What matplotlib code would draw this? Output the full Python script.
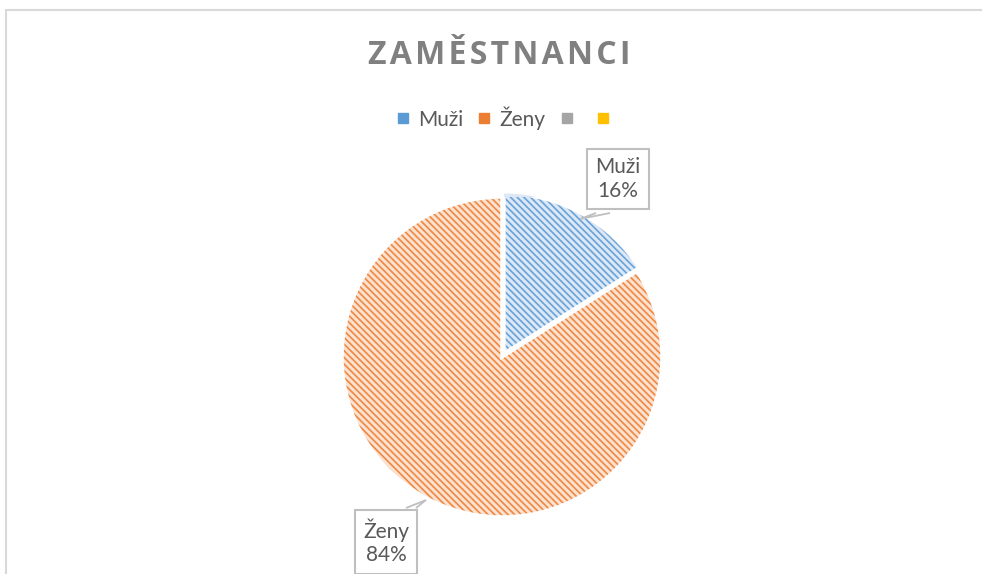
"""Koláčový graf ZAMĚSTNANCI (Muži / Ženy) se šrafovanými výsečemi."""
import matplotlib
matplotlib.use("Agg")
import matplotlib.pyplot as plt
from matplotlib.lines import Line2D
from matplotlib.patches import Rectangle, Wedge, Polygon

# data
kategorie = ["Muži", "Ženy"]
podily = [16, 84]
legenda_popisky = ["Muži", "Ženy", "", ""]

MODRA = "#5B9BD5"
ORANZOVA = "#ED7D31"
SEDA = "#A5A5A5"
ZLUTA = "#FFC000"
VYPLN = ["#DCE8F5", "#FBE2D0"]
TEXT = "#595959"

plt.rcParams["font.family"] = ["Lato", "DejaVu Sans"]
plt.rcParams["hatch.linewidth"] = 1.2

W, H = 982, 574
fig = plt.figure(figsize=(W / 100, H / 100), dpi=100)

# rámeček oblasti grafu
fig.patches.append(Rectangle((6 / W, -0.05), 1.1, (H - 10) / H + 0.05,
                             transform=fig.transFigure, fill=False,
                             edgecolor="#D9D9D9", lw=1.5))

# koláč
cx, cy, r = 502, 357, 160
ax = fig.add_axes([(cx - r) / W, (H - cy - r) / H, 2 * r / W, 2 * r / H])
ax.set_aspect("equal")
barvy = [MODRA, ORANZOVA]
wedges, _ = ax.pie(podily, startangle=90, counterclock=False, colors=VYPLN,
                   explode=[0.025, 0], wedgeprops=dict(lw=0))
for w, c in zip(wedges, barvy):
    ax.add_patch(Wedge(w.center, w.r, w.theta1, w.theta2, facecolor="none",
                       edgecolor=c, hatch="\\\\\\\\\\", lw=0, alpha=0.9))
    ax.add_patch(Wedge(w.center, w.r, w.theta1, w.theta2, facecolor="none",
                       edgecolor="white", lw=2.5))
ax.set_xlim(-1.0, 1.0)
ax.set_ylim(-1.0, 1.0)
ax.axis("off")

# titulek
fig.text(499 / W, 1 - 55 / H, "\u200a".join("ZAMĚSTNANCI"), ha="center", va="center",
         fontsize=23, fontweight="bold", color="#808080",
         family=["Open Sans", "DejaVu Sans"])

# legenda
handles = [Line2D([], [], marker="s", ls="", ms=7, color=c)
           for c in [MODRA, ORANZOVA, SEDA, ZLUTA]]
fig.legend(handles, legenda_popisky, loc="center", bbox_to_anchor=(507 / W, 1 - 118 / H),
           ncol=4, frameon=False, fontsize=15, labelcolor=TEXT, handlelength=0.7,
           handletextpad=0.4, columnspacing=0.65)

# popisky dat (bublina s ocáskem)
popisky_pozice = [(618, 179), (386, 542)]
ocasky = [[(596, 213), (580, 219), (610, 213)], [(406, 508), (426, 500), (416, 508)]]
for k, p, (tx, ty), oc in zip(kategorie, podily, popisky_pozice, ocasky):
    fig.text(tx / W, 1 - ty / H, f"{k}\n{p}%", ha="center", va="center",
             fontsize=15, color=TEXT, linespacing=1.2,
             bbox=dict(boxstyle="square,pad=0.4", fc="white", ec="#BFBFBF", lw=1.5))
    fig.patches.append(Polygon([(x / W, 1 - y / H) for x, y in oc], closed=False,
                               transform=fig.transFigure, fill=False,
                               edgecolor="#BFBFBF", lw=1.3))

fig.savefig("out.png", dpi=100, facecolor="white")
